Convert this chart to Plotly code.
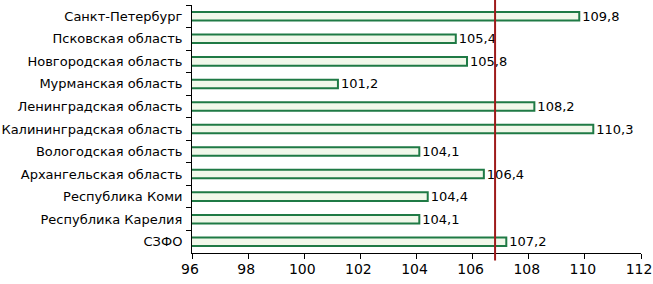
import plotly.graph_objects as go

regions = ["Санкт-Петербург", "Псковская область", "Новгородская область", "Мурманская область",
           "Ленинградская область", "Калининградская область", "Вологодская область",
           "Архангельская область", "Республика Коми", "Республика Карелия", "СЗФО"]
values = [109.8, 105.4, 105.8, 101.2, 108.2, 110.3, 104.1, 106.4, 104.4, 104.1, 107.2]
labels = [f"{v:.1f}".replace(".", ",") for v in values]
ref_value = 106.8
x_ticks = [96, 98, 100, 102, 104, 106, 108, 110, 112]

fig = go.Figure(go.Bar(
    y=regions, x=values, orientation="h",
    marker=dict(color="#f1f8ea", line=dict(color="#1f7a45", width=2)),
    text=labels, textposition="outside", cliponaxis=False, constraintext="none",
    textfont=dict(family="DejaVu Sans", size=13, color="black"),
))
fig.add_shape(type="line", xref="x", yref="paper", x0=ref_value, x1=ref_value,
              y0=-0.03, y1=1.025, line=dict(color="#9e1b1b", width=2))
fig.update_layout(
    width=653, height=284, margin=dict(l=192, r=12, t=5, b=31),
    paper_bgcolor="white", plot_bgcolor="white", showlegend=False,
    bargap=0.62, font=dict(family="DejaVu Sans, sans-serif", size=13, color="black"),
)
fig.update_xaxes(range=[96, 112], tickvals=x_ticks, ticktext=[str(t) for t in x_ticks],
                 showgrid=False, zeroline=False, showline=True, linecolor="black", linewidth=1,
                 ticks="outside", ticklen=5, tickcolor="black", automargin=False,
                 tickfont=dict(size=14), ticklabelshift=-2, ticklabelstandoff=-2)
fig.update_yaxes(autorange="reversed", showgrid=False, showline=True, linecolor="black", linewidth=1,
                 ticks="outside", ticklen=5, tickcolor="black", tickson="boundaries",
                 automargin=False, tickfont=dict(size=13), ticklabelstandoff=6)
fig.write_html("out.html", config={"displayModeBar": False},
               post_script="document.body.style.margin='0';")
